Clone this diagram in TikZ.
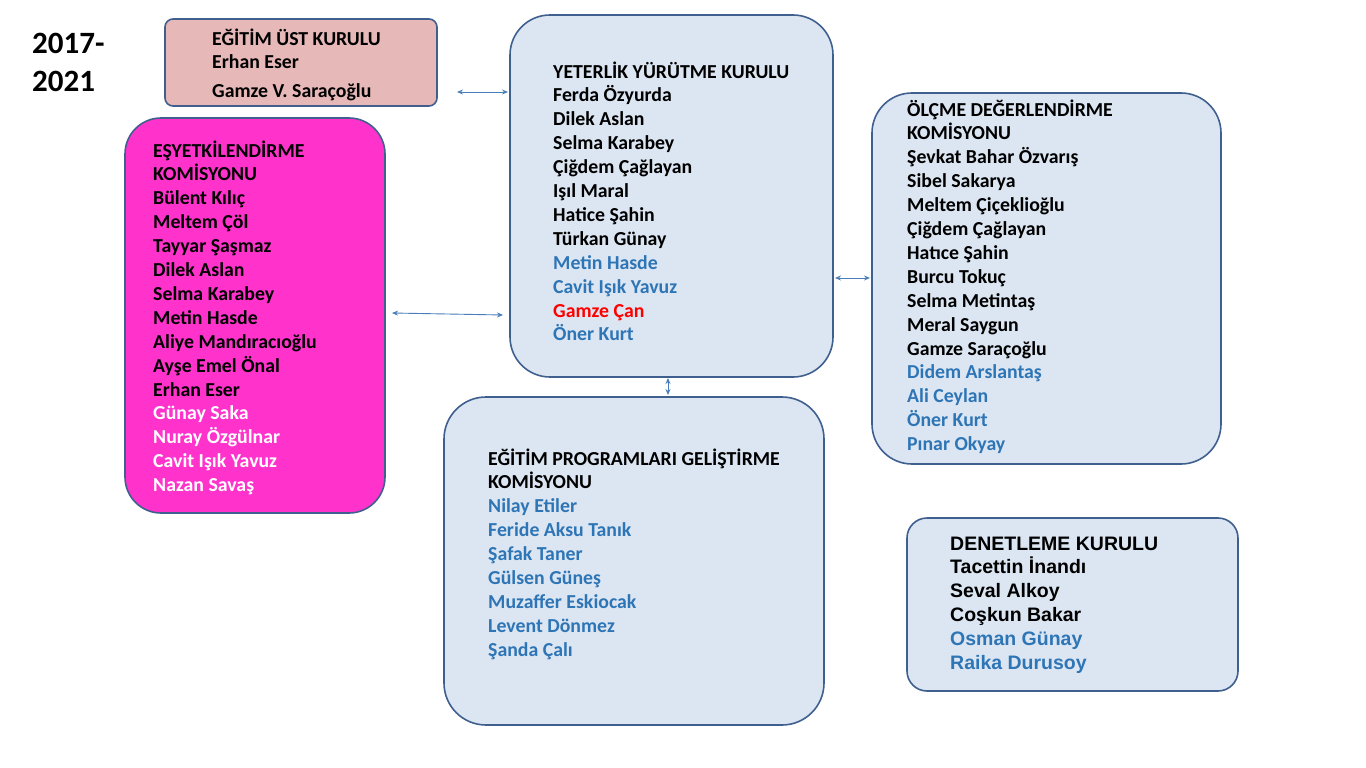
\documentclass[tikz,border=0pt]{standalone}
\usepackage{fontspec}
\usetikzlibrary{arrows.meta}
\setmainfont{Carlito}
\newfontfamily\arialf{Liberation Sans}
\definecolor{bfill}{HTML}{DCE6F2}
\definecolor{bline}{HTML}{3F5F8F}
\definecolor{ustfill}{HTML}{E6B8B7}
\definecolor{pinkf}{HTML}{FF33CC}
\definecolor{tb}{HTML}{2E75B6}
\definecolor{arr}{HTML}{4A7EBB}
\begin{document}
\begin{tikzpicture}[x=1pt,y=-1pt,
  box/.style={draw=bline,line width=1.6pt},
  ln/.style={anchor=base west,inner sep=0pt,font=\bfseries\fontsize{19.8}{22}\selectfont},
  dl/.style={anchor=base west,inner sep=0pt,font=\arialf\bfseries\fontsize{19.5}{22}\selectfont},
  ar/.style={arr,line width=0.9pt,<->,>={Stealth[length=6pt,width=5pt]}}]
\useasboundingbox (0,0) rectangle (1366,768);
\fill[white] (0,0) rectangle (1366,768);
\node[anchor=base west,inner sep=0pt,font=\bfseries\fontsize{31}{34}\selectfont] (yr) at (32,54) {2017-};
\node[anchor=base west,inner sep=0pt,font=\bfseries\fontsize{31}{34}\selectfont] (yr2) at (32,92) {2021};
% boxes
\draw[box,fill=ustfill,rounded corners=8pt] (165,19) rectangle (437,106);
\draw[box,fill=bfill,rounded corners=40pt] (510,15) rectangle (833,377);
\draw[box,fill=pinkf,rounded corners=36pt] (125,118) rectangle (385,513);
\draw[box,fill=bfill,rounded corners=40pt] (872,93) rectangle (1221,464);
\draw[box,fill=bfill,rounded corners=42pt] (444,397) rectangle (824,725);
\draw[box,fill=bfill,rounded corners=20pt] (907,518) rectangle (1238,691);
% arrows
\coordinate (a1) at (457,92); \coordinate (a2) at (508,92);
\coordinate (b1) at (392,313); \coordinate (b2) at (503,315);
\coordinate (c1) at (835,278); \coordinate (c2) at (870,278);
\coordinate (d1) at (668,378); \coordinate (d2) at (668,395);
\draw[ar] (a1) -- (a2);
\draw[ar] (b1) -- (b2);
\draw[ar] (c1) -- (c2);
\draw[ar] (d1) -- (d2);
% ust kurul
\node[ln] (u0) at (212,46) {EĞİTİM ÜST KURULU};
\node[ln] (u1) at (212,69) {Erhan Eser};
\node[ln] (u2) at (212,97) {Gamze V. Saraçoğlu};
% yeterlik
\foreach \t/\c [count=\i from 0] in {YETERLİK YÜRÜTME KURULU/black,Ferda Özyurda/black,Dilek Aslan/black,Selma Karabey/black,Çiğdem Çağlayan/black,Işıl Maral/black,Hatice Şahin/black,Türkan Günay/black,Metin Hasde/tb,Cavit Işık Yavuz/tb,Gamze Çan/red,Öner Kurt/tb}
  \node[ln,text=\c] (y\i) at (553,78+23.9*\i) {\t};
% esyetkilendirme
\foreach \t/\c [count=\i from 0] in {EŞYETKİLENDİRME/black,KOMİSYONU/black,Bülent Kılıç/black,Meltem Çöl/black,Tayyar Şaşmaz/black,Dilek Aslan/black,Selma Karabey/black,Metin Hasde/black,Aliye Mandıracıoğlu/black,Ayşe Emel Önal/black,Erhan Eser/black,Günay Saka/white,Nuray Özgülnar/white,Cavit Işık Yavuz/white,Nazan Savaş/white}
  \node[ln,text=\c] (e\i) at (153,157+23.9*\i) {\t};
% olcme
\foreach \t/\c [count=\i from 0] in {ÖLÇME DEĞERLENDİRME/black,KOMİSYONU/black,Şevkat Bahar Özvarış/black,Sibel Sakarya/black,Meltem Çiçeklioğlu/black,Çiğdem Çağlayan/black,Hatıce Şahin/black,Burcu Tokuç/black,Selma Metintaş/black,Meral Saygun/black,Gamze Saraçoğlu/black,Didem Arslantaş/tb,Ali Ceylan/tb,Öner Kurt/tb,Pınar Okyay/tb}
  \node[ln,text=\c] (o\i) at (907,116+23.9*\i) {\t};
% egitim programlari
\foreach \t/\c [count=\i from 0] in {EĞİTİM PROGRAMLARI GELİŞTİRME/black,KOMİSYONU/black,Nilay Etiler/tb,Feride Aksu Tanık/tb,Şafak Taner/tb,Gülsen Güneş/tb,Muzaffer Eskiocak/tb,Levent Dönmez/tb,Şanda Çalı/tb}
  \node[ln,text=\c] (p\i) at (488,465+23.9*\i) {\t};
% denetleme
\foreach \t/\c [count=\i from 0] in {DENETLEME KURULU/black,Tacettin İnandı/black,Seval Alkoy/black,Coşkun Bakar/black,Osman Günay/tb,Raika Durusoy/tb}
  \node[dl,text=\c] (d\i) at (950,550+23.8*\i) {\t};
\end{tikzpicture}
\end{document}
